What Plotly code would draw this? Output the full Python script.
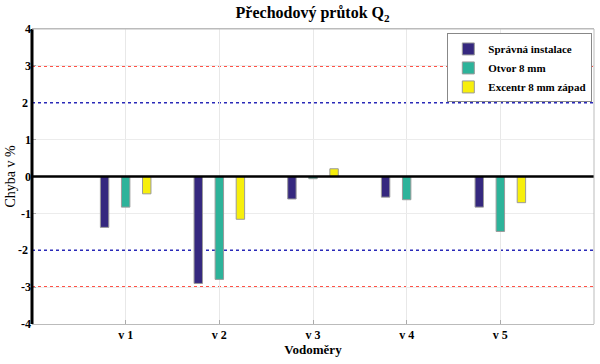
import plotly.graph_objects as go

categories = [1, 2, 3, 4, 5]
tick_labels = ["v 1", "v 2", "v 3", "v 4", "v 5"]
series_names = ["Správná instalace", "Otvor 8 mm", "Excentr 8 mm západ"]
spravna = [-1.38, -2.90, -0.61, -0.56, -0.83]
otvor = [-0.83, -2.79, -0.06, -0.63, -1.49]
excentr = [-0.47, -1.16, 0.21, 0.0, -0.71]
limit_outer = [3, -3]
limit_inner = [2, -2]

colors = ["#35287F", "#2DB39A", "#F7EF0C"]
series = [spravna, otvor, excentr]
bar_w = 0.09
step = 0.225

font_fam = "Liberation Serif"

fig = go.Figure()
for i, (name, vals, col) in enumerate(zip(series_names, series, colors)):
    fig.add_trace(go.Bar(
        x=categories, y=vals, name="<b>%s</b>" % name,
        width=bar_w, offset=(i - 1) * step - bar_w / 2,
        marker=dict(color=col, line=dict(color="#9a9a9a", width=1)),
    ))

for y in limit_outer:
    fig.add_hline(y=y, line=dict(color="#FF1A0A", width=1.6, dash="dot"), layer="below")
for y in limit_inner:
    fig.add_hline(y=y, line=dict(color="#2A2AB8", width=1.6, dash="dot"), layer="below")
fig.add_hline(y=0, line=dict(color="black", width=2.5))

fig.update_layout(
    width=600, height=364,
    margin=dict(l=32, r=6, t=29, b=40, autoexpand=False),
    plot_bgcolor="white", paper_bgcolor="white",
    barmode="overlay",
    font=dict(family=font_fam, color="black", size=12),
    title=dict(text="<b>Přechodový průtok Q<sub>2</sub></b>", x=0.521, xanchor="center",
               y=0.965, yanchor="middle", font=dict(size=16, family=font_fam, color="black")),
    legend=dict(x=0.997, y=0.985, xanchor="right", yanchor="top",
                bgcolor="white", bordercolor="#888", borderwidth=1,
                font=dict(size=11, family=font_fam, color="black"), tracegroupgap=0,
                itemwidth=30),
    showlegend=True,
)
fig.update_xaxes(
    range=[0, 6], tickvals=categories,
    ticktext=["<b>%s</b>" % t for t in tick_labels],
    tickfont=dict(family=font_fam, size=12, color="black"),
    showgrid=True, gridcolor="#e8e8e8", gridwidth=1,
    ticks="inside", ticklen=4, tickcolor="#aaa",
    showline=True, linecolor="#bbb", linewidth=1, mirror=True,
    zeroline=False, automargin=False,
    title=dict(text="<b>Vodoměry</b>", standoff=2, font=dict(size=13, family=font_fam, color="black")),
)
fig.update_yaxes(
    range=[-4, 4],
    tickvals=[-4, -3, -1, 0, 1, 3, 4],
    ticktext=["<b>%d</b>" % v for v in [-4, -3, -1, 0, 1, 3, 4]],
    tickfont=dict(family=font_fam, size=12, color="black"),
    showgrid=True, gridcolor="#ececec", gridwidth=1,
    ticks="inside", ticklen=4, tickcolor="#aaa",
    showline=False, zeroline=False, automargin=False,
    title=dict(text="Chyba v %", standoff=2, font=dict(size=14, family=font_fam, color="black")),
)
# tick labels at ±2 (no gridline there, so the dotted blue line shows clearly)
for v in limit_inner:
    fig.add_annotation(x=0, xref="paper", y=v, yref="y", text="<b>%d</b>" % v,
                       showarrow=False, xanchor="right", xshift=-2,
                       font=dict(family=font_fam, size=12, color="black"))
fig.add_shape(type="line", xref="paper", yref="paper", x0=0, x1=0, y0=0, y1=1,
              line=dict(color="black", width=3))
fig.add_shape(type="line", xref="paper", yref="paper", x0=0, x1=1, y0=1, y1=1,
              line=dict(color="#bbb", width=1))
fig.add_shape(type="line", xref="paper", yref="paper", x0=1, x1=1, y0=0, y1=1,
              line=dict(color="#bbb", width=1))

fig.write_html("out.html", config={"displayModeBar": False},
               post_script="document.body.style.margin='0';document.body.style.overflow='hidden';")
